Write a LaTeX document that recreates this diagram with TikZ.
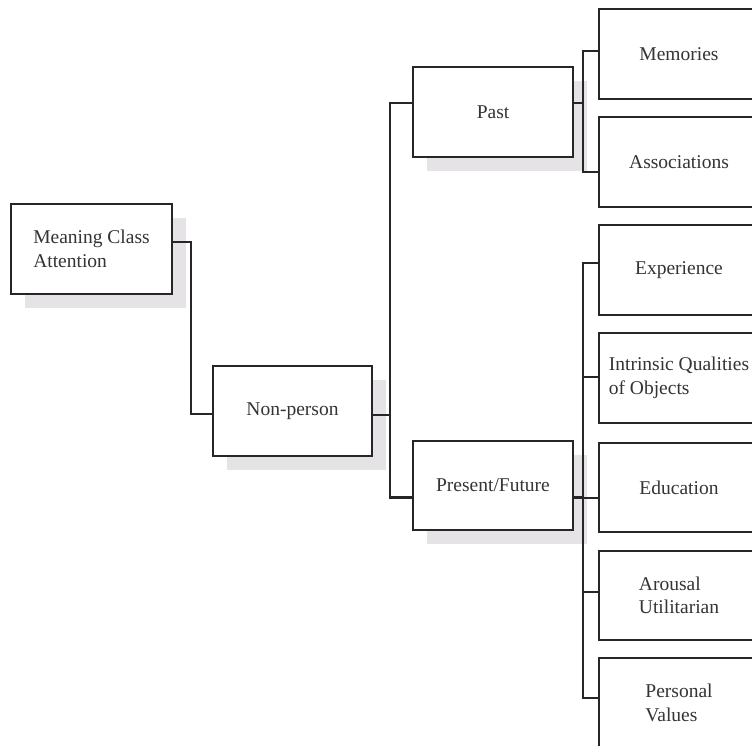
\documentclass[tikz,border=0pt]{standalone}
\usepackage{fontspec}
\setmainfont{Liberation Serif}
\usetikzlibrary{shadows}
\definecolor{boxline}{RGB}{38,38,38}
\definecolor{boxtext}{RGB}{52,52,52}
\definecolor{shadowgray}{RGB}{229,227,230}
\tikzset{
  box/.style={draw=boxline, line width=2.2pt, fill=white, text=boxtext,
    minimum width=160pt, minimum height=90pt, inner sep=0pt, align=left,
    font=\fontsize{19.5}{23.5}\selectfont},
  shadowbox/.style={box, drop shadow={shadow xshift=14pt, shadow yshift=-14pt,
    fill=shadowgray, opacity=1}},
  link/.style={draw=boxline, line width=2.2pt}
}
\begin{document}
\begin{tikzpicture}[x=1pt, y=-1pt]
  \useasboundingbox (0,0) rectangle (752,746);
  \clip (0,0) rectangle (752,746);

  % main branches with shadows
  \node[shadowbox, minimum width=161pt] (m) at (91.5,249) {Meaning Class\\Attention};
  \node[shadowbox, minimum width=159pt] (np) at (292.5,411) {Non-person};
  \node[shadowbox] (past) at (493,112) {Past};
  \node[shadowbox, minimum height=89pt] (pf) at (493,485.5) {Present/Future};

  % leaf column
  \node[box] (mem) at (679,54) {Memories};
  \node[box] (assoc) at (679,162) {Associations};
  \node[box] (exp) at (679,270) {Experience};
  \node[box] (intr) at (679,378) {Intrinsic Qualities\\of Objects};
  \node[box, minimum height=89pt] (edu) at (679,487.5) {Education};
  \node[box, minimum height=89pt] (arou) at (679,595.5) {Arousal\\Utilitarian};
  \node[box] (pers) at (679,703) {Personal\\Values};

  % elbow connectors
  \draw[link] ([yshift=7pt]m.east) -- ++(18pt,0) |- ([yshift=-3pt]np.west);
  \draw[link] ([yshift=-4pt]np.east) -- ++(17pt,0) coordinate (npj)
    |- ([yshift=9pt]past.west);
  \draw[link] (npj) |- ([yshift=-12pt]pf.west);

  \draw[link] ([yshift=9pt]past.east) -- ++(9pt,0) coordinate (pj)
    |- ([yshift=3pt]mem.west);
  \draw[link] (pj) |- ([yshift=-10pt]assoc.west);

  \draw[link] ([yshift=-12pt]pf.east) -- ++(9pt,0) coordinate (fj)
    |- ([yshift=7pt]exp.west);
  \draw[link] (fj) |- ([yshift=1pt]intr.west);
  \draw[link] (fj) |- ([yshift=-10.5pt]edu.west);
  \draw[link] (fj) |- ([yshift=3.5pt]arou.west);
  \draw[link] (fj) |- ([yshift=5pt]pers.west);
\end{tikzpicture}
\end{document}
